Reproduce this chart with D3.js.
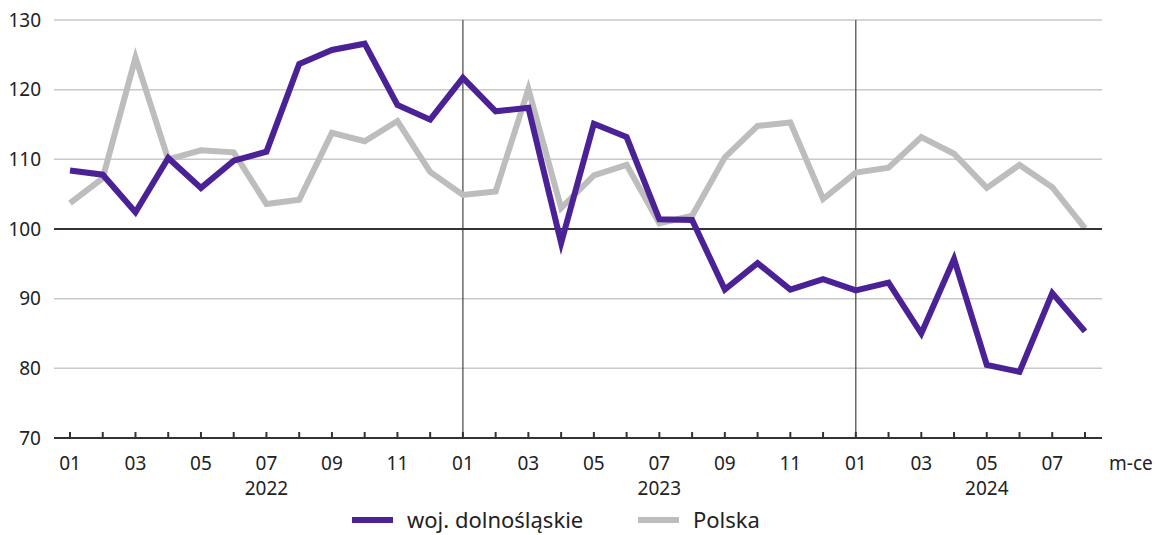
<!DOCTYPE html>
<html>
<head>
<meta charset="utf-8">
<script src="https://cdn.jsdelivr.net/npm/d3@7"></script>
<style>
  body { margin: 0; background: #fff; }
  text { font-family: "Noto Sans", sans-serif; fill: #222; }
</style>
</head>
<body>
<div id="chart"></div>
<script>
// months 01/2022 .. 08/2024
const months = ["01","02","03","04","05","06","07","08","09","10","11","12",
                "01","02","03","04","05","06","07","08","09","10","11","12",
                "01","02","03","04","05","06","07","08"];
const years = [{ label: "2022", at: 6 }, { label: "2023", at: 18 }, { label: "2024", at: 28 }];
const dolnoslaskie = [108.4, 107.8, 102.4, 110.2, 105.9, 109.8, 111.1, 123.7, 125.7, 126.6, 117.8, 115.7,
                      121.7, 116.9, 117.4, 98.0, 115.1, 113.2, 101.4, 101.3, 91.3, 95.1, 91.3, 92.8,
                      91.2, 92.3, 85.0, 95.7, 80.5, 79.5, 90.8, 85.3];
const polska = [103.7, 107.3, 124.6, 110.0, 111.3, 111.0, 103.6, 104.2, 113.8, 112.6, 115.5, 108.2,
                104.9, 105.4, 120.1, 103.0, 107.7, 109.2, 100.8, 101.9, 110.3, 114.8, 115.3, 104.3,
                108.1, 108.8, 113.2, 110.8, 105.9, 109.2, 106.0, 100.1];
const yTicks = [70, 80, 90, 100, 110, 120, 130];

function main() {
    const width = 1158, height = 535;
    const svg = d3.select("#chart").append("svg")
        .attr("width", width)
        .attr("height", height);

    const left = 54, right = 1102, top = 20, bottom = 438;

    const x = d3.scaleLinear().domain([0, months.length - 1]).range([70, 1085]);
    const y = d3.scaleLinear().domain([70, 130]).range([bottom, top]);

    // grid
    svg.append("g")
        .selectAll("line")
        .data(yTicks.filter(d => d !== 70 && d !== 100))
        .join("line")
        .attr("x1", left).attr("x2", right)
        .attr("y1", d => y(d)).attr("y2", d => y(d))
        .attr("stroke", "#c9c9c9")
        .attr("stroke-width", 1.5);

    // year separators
    svg.append("g")
        .selectAll("line")
        .data([12, 24])
        .join("line")
        .attr("x1", d => x(d)).attr("x2", d => x(d))
        .attr("y1", top).attr("y2", bottom)
        .attr("stroke", "#444")
        .attr("stroke-width", 1.2);

    // y labels
    svg.append("g")
        .selectAll("text")
        .data(yTicks)
        .join("text")
        .attr("x", 41)
        .attr("y", d => y(d))
        .attr("dy", "0.35em")
        .attr("text-anchor", "end")
        .style("font-size", "19px")
        .text(d => d);

    // lines
    const line = d3.line().x((d, i) => x(i)).y(d => y(d));
    svg.append("path")
        .datum(polska)
        .attr("d", line)
        .attr("fill", "none")
        .attr("stroke", "#bdbdbd")
        .attr("stroke-width", 6)
        .attr("stroke-linejoin", "miter");

    // 100 baseline
    svg.append("line")
        .attr("x1", left).attr("x2", right)
        .attr("y1", y(100)).attr("y2", y(100))
        .attr("stroke", "#333")
        .attr("stroke-width", 2);

    svg.append("path")
        .datum(dolnoslaskie)
        .attr("d", line)
        .attr("fill", "none")
        .attr("stroke", "#4b2296")
        .attr("stroke-width", 6)
        .attr("stroke-linejoin", "miter");

    // x axis
    svg.append("line")
        .attr("x1", left).attr("x2", right)
        .attr("y1", bottom).attr("y2", bottom)
        .attr("stroke", "#333")
        .attr("stroke-width", 2);

    svg.append("g")
        .selectAll("line")
        .data(months)
        .join("line")
        .attr("x1", (d, i) => x(i)).attr("x2", (d, i) => x(i))
        .attr("y1", bottom - 6).attr("y2", bottom + 1)
        .attr("stroke", "#333")
        .attr("stroke-width", 2);

    svg.append("g")
        .selectAll("text")
        .data(months.map((m, i) => ({ m, i })).filter(d => d.i % 2 === 0))
        .join("text")
        .attr("x", d => x(d.i))
        .attr("y", 463)
        .attr("dy", "0.35em")
        .attr("text-anchor", "middle")
        .style("font-size", "19px")
        .text(d => d.m);

    svg.append("g")
        .selectAll("text")
        .data(years)
        .join("text")
        .attr("x", d => x(d.at))
        .attr("y", 488)
        .attr("dy", "0.35em")
        .attr("text-anchor", "middle")
        .style("font-size", "19px")
        .text(d => d.label);

    svg.append("text")
        .attr("x", 1109)
        .attr("y", 463)
        .attr("dy", "0.35em")
        .style("font-size", "19px")
        .text("m-ce");

    // legend
    const legend = [
        { name: "woj. dolnośląskie", color: "#4b2296", x: 352 },
        { name: "Polska", color: "#bdbdbd", x: 638 }
    ];
    const lg = svg.append("g").selectAll("g").data(legend).join("g")
        .attr("transform", d => `translate(${d.x},520)`);
    lg.append("line")
        .attr("x1", 0).attr("x2", 41)
        .attr("stroke", d => d.color)
        .attr("stroke-width", 6);
    lg.append("text")
        .attr("x", 55)
        .attr("dy", "0.35em")
        .style("font-size", "22px")
        .text(d => d.name);
}
main();
</script>
</body>
</html>
